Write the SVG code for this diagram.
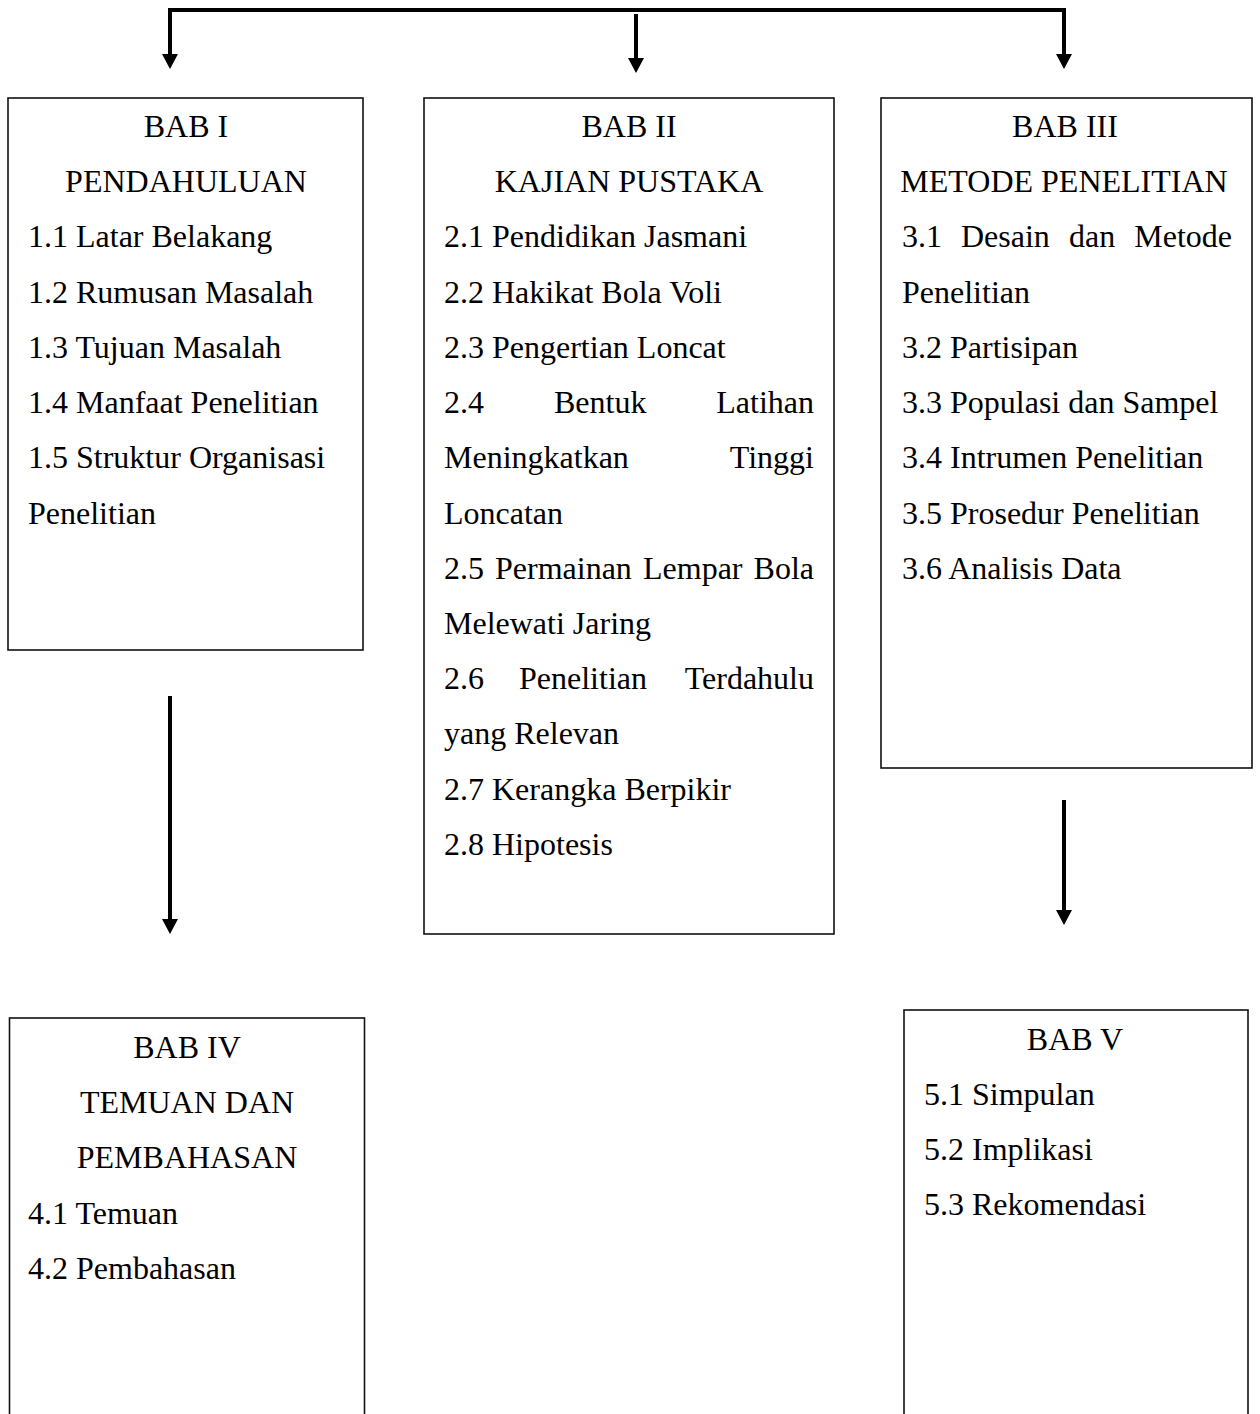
<svg xmlns="http://www.w3.org/2000/svg" width="1260" height="1414" viewBox="0 0 1260 1414">
<style>
.box{fill:#fff;stroke:#111;stroke-width:1.6}
.t{font-family:"Liberation Serif","Times New Roman",serif;font-size:32px;fill:#000}
.c{text-anchor:middle}
.r{text-anchor:end}
.ln{fill:none;stroke:#000;stroke-width:4}
</style>
<defs>
<marker id="ah" markerUnits="userSpaceOnUse" markerWidth="16" markerHeight="16" viewBox="0 0 16 16" refX="0" refY="8" orient="auto">
<path d="M0,0 L15,8 L0,16 z" fill="#000"/>
</marker>
</defs>
<rect width="1260" height="1414" fill="#fff"/>
<g id="connectors">
<path class="ln" d="M1066,10 H170 V54" marker-end="url(#ah)"/>
<path class="ln" d="M1064,10 V54" marker-end="url(#ah)"/>
<path class="ln" d="M636,14 V58" marker-end="url(#ah)"/>
<path class="ln" d="M170,696 V919" marker-end="url(#ah)"/>
<path class="ln" d="M1064,800 V910" marker-end="url(#ah)"/>
</g>
<g id="bab1">
<rect class="box" x="8" y="98" width="355" height="552"/>
<text class="t c" x="186" y="137">BAB I</text>
<text class="t c" x="186" y="192">PENDAHULUAN</text>
<text class="t" x="28" y="247">1.1 Latar Belakang</text>
<text class="t" x="28" y="303">1.2 Rumusan Masalah</text>
<text class="t" x="28" y="358">1.3 Tujuan Masalah</text>
<text class="t" x="28" y="413">1.4 Manfaat Penelitian</text>
<text class="t" x="28" y="468">1.5 Struktur Organisasi</text>
<text class="t" x="28" y="524">Penelitian</text>
</g>
<g id="bab2">
<rect class="box" x="424" y="98" width="410" height="836"/>
<text class="t c" x="629" y="137">BAB II</text>
<text class="t c" x="629" y="192">KAJIAN PUSTAKA</text>
<text class="t" x="444" y="247">2.1 Pendidikan Jasmani</text>
<text class="t" x="444" y="303">2.2 Hakikat Bola Voli</text>
<text class="t" x="444" y="358">2.3 Pengertian Loncat</text>
<text class="t" x="444" y="413">2.4</text>
<text class="t" x="554" y="413">Bentuk</text>
<text class="t r" x="814" y="413">Latihan</text>
<text class="t" x="444" y="468">Meningkatkan</text>
<text class="t r" x="814" y="468">Tinggi</text>
<text class="t" x="444" y="524">Loncatan</text>
<text class="t" x="444" y="579">2.5</text>
<text class="t" x="495" y="579">Permainan</text>
<text class="t" x="643" y="579">Lempar</text>
<text class="t r" x="814" y="579">Bola</text>
<text class="t" x="444" y="634">Melewati Jaring</text>
<text class="t" x="444" y="689">2.6</text>
<text class="t" x="519" y="689">Penelitian</text>
<text class="t r" x="814" y="689">Terdahulu</text>
<text class="t" x="444" y="744">yang Relevan</text>
<text class="t" x="444" y="800">2.7 Kerangka Berpikir</text>
<text class="t" x="444" y="855">2.8 Hipotesis</text>
</g>
<g id="bab3">
<rect class="box" x="881" y="98" width="371" height="670"/>
<text class="t c" x="1065" y="137">BAB III</text>
<text class="t c" x="1064" y="192">METODE PENELITIAN</text>
<text class="t" x="902" y="247">3.1</text>
<text class="t" x="961" y="247">Desain</text>
<text class="t" x="1069" y="247">dan</text>
<text class="t r" x="1232" y="247">Metode</text>
<text class="t" x="902" y="303">Penelitian</text>
<text class="t" x="902" y="358">3.2 Partisipan</text>
<text class="t" x="902" y="413">3.3 Populasi dan Sampel</text>
<text class="t" x="902" y="468">3.4 Intrumen Penelitian</text>
<text class="t" x="902" y="524">3.5 Prosedur Penelitian</text>
<text class="t" x="902" y="579">3.6 Analisis Data</text>
</g>
<g id="bab4">
<rect class="box" x="9.5" y="1018" width="355" height="420"/>
<text class="t c" x="187" y="1058">BAB IV</text>
<text class="t c" x="187" y="1113">TEMUAN DAN</text>
<text class="t c" x="187" y="1168">PEMBAHASAN</text>
<text class="t" x="28" y="1224">4.1 Temuan</text>
<text class="t" x="28" y="1279">4.2 Pembahasan</text>
</g>
<g id="bab5">
<rect class="box" x="904" y="1010" width="344" height="430"/>
<text class="t c" x="1075" y="1050">BAB V</text>
<text class="t" x="924" y="1105">5.1 Simpulan</text>
<text class="t" x="924" y="1160">5.2 Implikasi</text>
<text class="t" x="924" y="1215">5.3 Rekomendasi</text>
</g>
</svg>
